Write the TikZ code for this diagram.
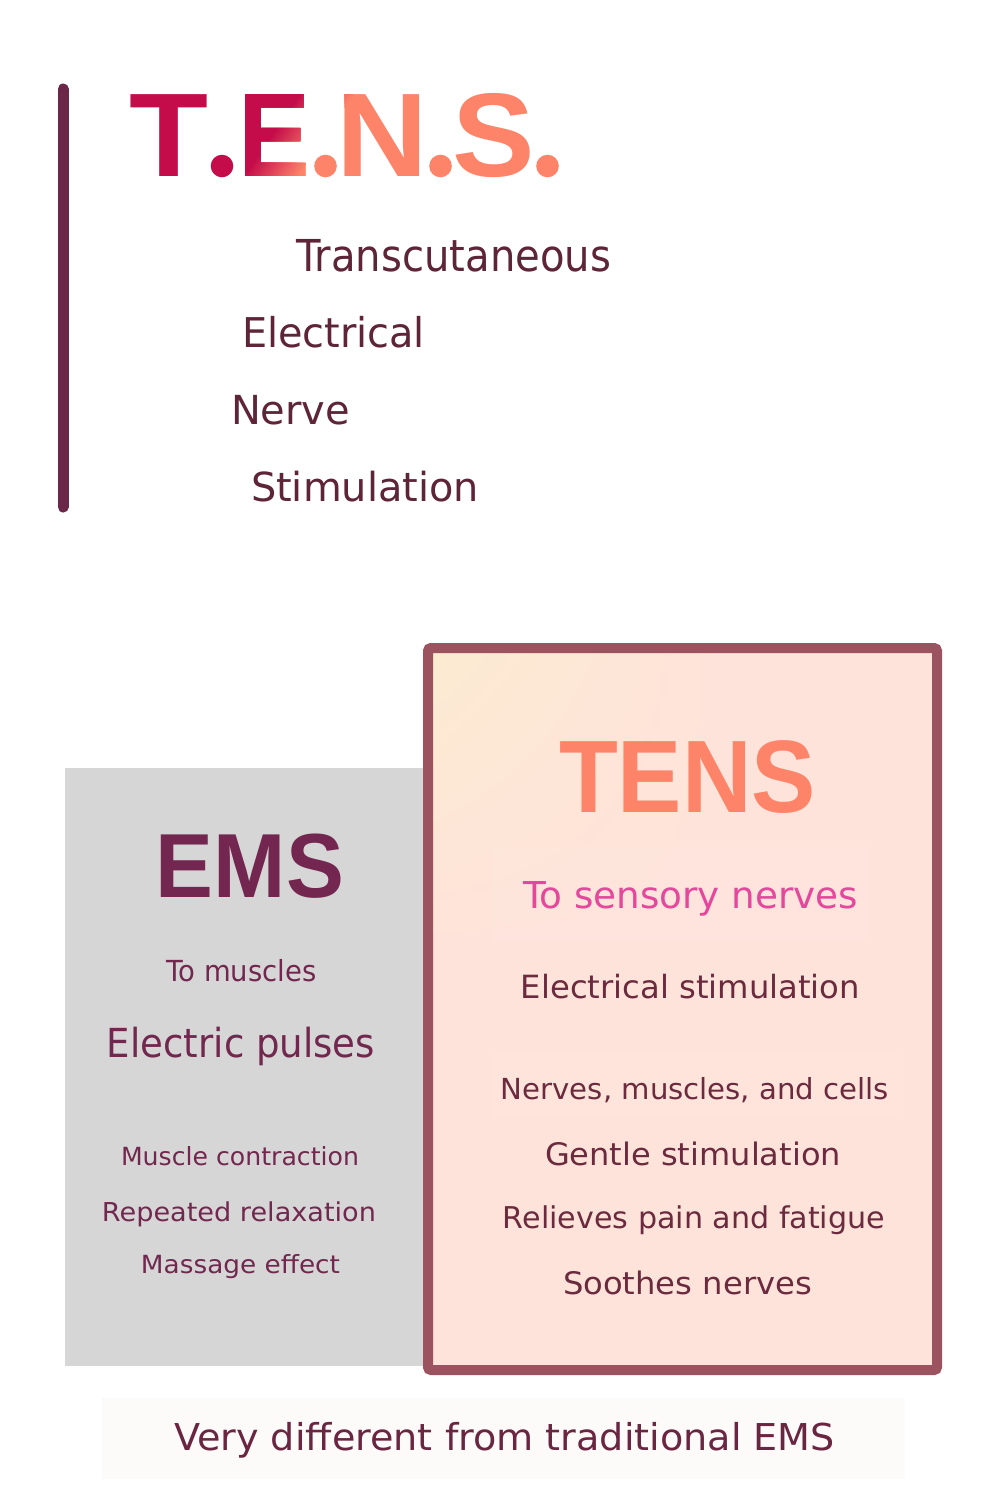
\documentclass[tikz,border=0pt]{standalone}
\usepackage{fontspec}
\usepackage{graphicx}
\usetikzlibrary{shadings}
\setmainfont{DejaVu Sans}
\newfontfamily\heavy{Liberation Sans}
\definecolor{crimson}{HTML}{C50C4A}
\definecolor{salmon}{HTML}{FE8469}
\definecolor{barcol}{HTML}{6B2748}
\definecolor{toptxt}{HTML}{5E2438}
\definecolor{emstxt}{HTML}{72284E}
\definecolor{emstitle}{HTML}{722650}
\definecolor{tenstxt}{HTML}{6B2A3E}
\definecolor{pinktxt}{HTML}{E4479C}
\definecolor{bordercol}{HTML}{9A535F}
\definecolor{graybox}{HTML}{D6D6D6}
\definecolor{peach}{HTML}{FEE3DA}
\definecolor{cream}{HTML}{FCEBD1}
\definecolor{bottxt}{HTML}{6A2640}
\definecolor{faint}{HTML}{FDFAFA}
\newcommand{\lbl}[3]{\resizebox{#1pt}{\height}{\fontsize{#2pt}{#2pt}\selectfont #3}}
\newcommand{\hlbl}[3]{\resizebox{#1pt}{\height}{\fontsize{#2pt}{#2pt}\selectfont\heavy\bfseries #3}}
\begin{document}
\begin{tikzpicture}[x=1pt,y=-1pt,
  txt/.style={anchor=base,inner sep=0pt,outer sep=0pt}]
\useasboundingbox (0,0) rectangle (1000,1508);
\fill[white] (0,0) rectangle (1000,1508);
% left bar
\coordinate (bartop) at (63,89);
\coordinate (barbot) at (63,507);
\draw[barcol,line width=11pt,line cap=round] (bartop) -- (barbot);
% title T.E.N.S.
\node[txt,text=crimson] (lT) at (169,176) {\hlbl{79}{119}{T}};
\fill[crimson] (222,166) circle[radius=11.3];
\node[txt,text=salmon] (lS) at (494,176) {\hlbl{82.5}{119}{S}};
\fill[salmon] (440.5,166) circle[radius=11.3];
\fill[salmon] (547.5,166) circle[radius=11.3];
\node[txt,text=salmon] (lE) at (274.5,176) {\hlbl{72}{119}{E}};
\fill[salmon] (325.5,166) circle[radius=11.3];
\node[txt,text=salmon] (lN) at (382.5,176) {\hlbl{91.6}{119}{N}};
\foreach \k in {19,18,...,0}{
  \pgfmathsetmacro\xe{245+2.75*\k}
  \pgfmathsetmacro\pct{100-5*\k}
  \begin{scope}
    \clip (0,346) -- (\xe-116,346) -- (\xe+174,-79) -- (0,-79) -- cycle;
    \node[txt,text=crimson!\pct!salmon] (lE\k) at (274.5,176) {\hlbl{72}{119}{E}};
    \fill[crimson!\pct!salmon] (325.5,166) circle[radius=11.3];
    \node[txt,text=crimson!\pct!salmon] (lN\k) at (382.5,176) {\hlbl{91.6}{119}{N}};
  \end{scope}
}
% expansion
\node[txt,text=toptxt] (t1) at (453.5,271) {\lbl{315}{44}{Transcutaneous}};
\node[txt,text=toptxt] (t2) at (333.5,347) {\lbl{183}{41}{Electrical}};
\node[txt,text=toptxt] (t3) at (290.5,424) {\lbl{119}{40}{Nerve}};
\node[txt,text=toptxt] (t4) at (365,501) {\lbl{228}{40}{Stimulation}};
% EMS box
\fill[graybox] (65,768) rectangle (428,1366);
\node[txt,text=emstitle] (ems) at (250,897) {\hlbl{188}{91}{EMS}};
\node[txt,text=emstxt] (e1) at (241.5,981) {\lbl{150}{29}{To muscles}};
\node[txt,text=emstxt] (e2) at (241,1057) {\lbl{268}{40}{Electric pulses}};
\node[txt,text=emstxt] (e3) at (240,1165) {\lbl{238}{25}{Muscle contraction}};
\node[txt,text=emstxt] (e4) at (239,1221) {\lbl{274}{26}{Repeated relaxation}};
\node[txt,text=emstxt] (e5) at (240.5,1273) {\lbl{199}{25}{Massage effect}};
% TENS box
\fill[peach] (428,648) rectangle (937,1370);
\shade[upper left=cream,upper right=peach,lower left=peach,lower right=peach] (433,653) rectangle (720,950);
\fill[white,opacity=0.06] (493,847) rectangle (868,940);
\fill[white,opacity=0.05] (492,1052) rectangle (897,1117);
\draw[bordercol,line width=10pt,rounded corners=3pt] (428,648) rectangle (937,1370);
\node[txt,text=salmon] (tens) at (687.5,812) {\hlbl{257}{103}{TENS}};
\node[txt,text=pinktxt] (s1) at (690.5,908) {\lbl{335}{37}{To sensory nerves}};
\node[txt,text=tenstxt] (s2) at (690.5,998) {\lbl{339}{32}{Electrical stimulation}};
\node[txt,text=tenstxt] (s3) at (695,1099) {\lbl{388}{29}{Nerves, muscles, and cells}};
\node[txt,text=tenstxt] (s4) at (693,1165) {\lbl{296}{31}{Gentle stimulation}};
\node[txt,text=tenstxt] (s5) at (694,1228) {\lbl{382}{30}{Relieves pain and fatigue}};
\node[txt,text=tenstxt] (s6) at (687.5,1294) {\lbl{249}{31}{Soothes nerves}};
% bottom
\fill[faint] (102,1398) rectangle (905,1479);
\node[txt,text=bottxt] (bottom) at (504.5,1450) {\lbl{661}{37}{Very different from traditional EMS}};
\end{tikzpicture}
\end{document}
